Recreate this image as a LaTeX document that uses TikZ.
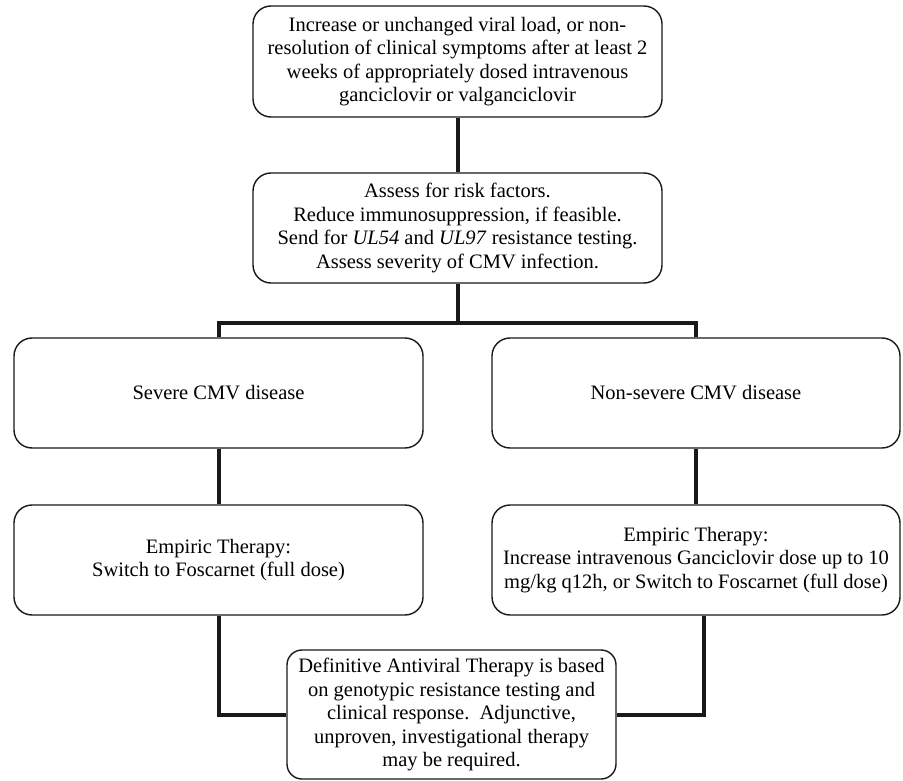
\documentclass[tikz,border=0pt]{standalone}
\usepackage{fontspec}
\setmainfont{Liberation Serif}
\usepackage{tikz}
\usetikzlibrary{positioning}

\begin{document}
\begin{tikzpicture}[x=1pt,y=-1pt,
    flowbox/.style={draw=black!90,line width=1.4pt,rounded corners=18pt,align=center,
      font=\fontsize{20.5}{23.5}\selectfont,inner sep=2pt},
    link/.style={draw=black!90,line width=4pt}]
  \pgfmathsetmacro\colL{218.5}
  \pgfmathsetmacro\colR{696}
  \pgfmathsetmacro\colM{457.5}

  \useasboundingbox[fill=white] (0,0) rectangle (903,781);

% top of the chart
  \node[flowbox,minimum width=409pt,minimum height=111pt] (fail) at (\colM,61.5)
    {Increase or unchanged viral load, or non-\\resolution of clinical symptoms after at least 2\\
     weeks of appropriately dosed intravenous\\ganciclovir or valganciclovir};
  \node[flowbox,minimum width=409pt,minimum height=110pt] (assess) at (\colM,228)
    {Assess for risk factors.\\Reduce immunosuppression, if feasible.\\
     Send for \textit{UL54} and \textit{UL97} resistance testing.\\Assess severity of CMV infection.};
  \coordinate (split) at (\colM,323);

% two branches
  \node[flowbox,minimum width=409pt,minimum height=110pt] (severe) at (\colL,393) {Severe CMV disease};
  \node[flowbox,minimum width=408pt,minimum height=110pt] (mild) at (\colR,393) {Non-severe CMV disease};
  \node[flowbox,minimum width=409pt,minimum height=110pt] (empsev) at (\colL,560)
    {Empiric Therapy:\\Switch to Foscarnet (full dose)};
  \node[flowbox,minimum width=408pt,minimum height=110pt] (empmild) at (\colR,560)
    {Empiric Therapy:\\Increase intravenous Ganciclovir dose up to 10\\
     mg/kg q12h, or Switch to Foscarnet (full dose)};

% joint end
  \node[flowbox,rounded corners=15pt,minimum width=329pt,minimum height=129pt] (final) at (451.5,714.5)
    {Definitive Antiviral Therapy is based\\on genotypic resistance testing and\\
     clinical response.\ \ Adjunctive,\\unproven, investigational therapy\\may be required.};

% connectors
  \draw[link] (fail) -- (assess);
  \draw[link] (assess) -- (split);
  \draw[link] (severe.north) |- (split) -| (mild.north);
  \draw[link] (severe) -- (empsev);
  \draw[link] (mild) -- (empmild);
  \draw[link] (empsev.south) |- (final.west);
  \draw[link] ([xshift=8pt]empmild.south) |- (final.east);

\end{tikzpicture}
\end{document}
